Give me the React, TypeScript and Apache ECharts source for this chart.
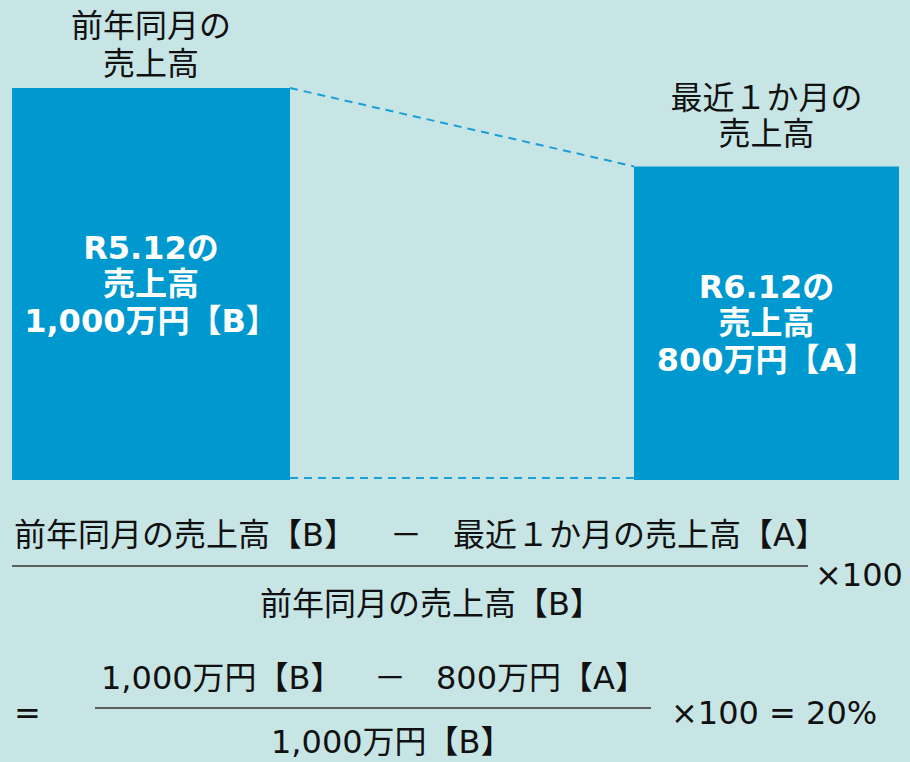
import React, { useEffect, useRef } from "react";
import * as echarts from "echarts";

// ---- data ----
const CATEGORIES = ["前年同月", "最近１か月"];
const SALES = [1000, 800];
const TOP_LABELS = ["前年同月の\n売上高", "最近１か月の\n売上高"];
const BAR_LABELS = ["R5.12の\n売上高\n1,000万円【B】", "R6.12の\n売上高\n800万円【A】"];
const FORMULA1_NUM = ["前年同月の売上高【B】", "－", "最近１か月の売上高【A】"];
const FORMULA1_DEN = "前年同月の売上高【B】";
const FORMULA1_TAIL = "×100";
const FORMULA2_NUM = ["1,000万円【B】", "－", "800万円【A】"];
const FORMULA2_DEN = "1,000万円【B】";
const FORMULA2_HEAD = "=";
const FORMULA2_TAIL = "×100 = 20%";

// ---- styles ----
const BG = "#c8e5e5";
const BAR_COLOR = "#0099cf";
const DASH_COLOR = "#1a9fd6";
const TEXT_COLOR = "#111111";
const FONT = "'DejaVu Sans', 'Noto Sans CJK JP', sans-serif";
const FS = 32;
const BAR_WIDTHS = [278, 265];
const TOP_LABEL_GAP = [5, 14];
const TOP_LABEL_LH = [38, 36];

function txt(text: string, x: number, y: number, align = "left", extra: any = {}) {
  return {
    type: "text",
    style: {
      text,
      x,
      y,
      fill: TEXT_COLOR,
      fontSize: FS,
      fontFamily: FONT,
      align,
      verticalAlign: "middle",
      textAlign: align,
      textVerticalAlign: "middle",
      ...extra,
    },
  };
}

export default function App() {
  const ref = useRef<HTMLDivElement>(null);
  useEffect(() => {
    if (!ref.current) return;
    const chart = echarts.init(ref.current, null, { renderer: "svg" });
    const option: any = {
      animation: false,
      backgroundColor: BG,
      grid: { left: 151, right: 143.5, top: 88, bottom: 282 },
      xAxis: [
        { type: "category", data: CATEGORIES, boundaryGap: false, show: false },
        { type: "category", data: CATEGORIES, boundaryGap: false, show: false, gridIndex: 0 },
      ],
      yAxis: { type: "value", min: 0, max: 1000, show: false },
      series: [
        ...SALES.map((v, i) => ({
          type: "bar",
          xAxisIndex: i,
          barWidth: BAR_WIDTHS[i],
          clip: false,
          data: SALES.map((s, j) => (j === i ? s : "-")),
          itemStyle: { color: BAR_COLOR },
          label: {
            show: true,
            position: "inside",
            formatter: () => BAR_LABELS[i],
            color: "#ffffff",
            fontWeight: "bold",
            fontSize: FS,
            fontFamily: FONT,
            lineHeight: 36.5,
            align: "center",
          },
        })),
        {
          type: "custom",
          xAxisIndex: 0,
          clip: false,
          data: SALES.map((v, i) => [i, v]),
          renderItem: (params: any, api: any) => {
            const i = params.dataIndex;
            const top = api.coord([i, SALES[i]]);
            const children: any[] = [
              {
                type: "text",
                style: {
                  text: TOP_LABELS[i],
                  x: top[0],
                  y: top[1] - TOP_LABEL_GAP[i],
                  fill: TEXT_COLOR,
                  fontSize: FS,
                  fontFamily: FONT,
                  lineHeight: TOP_LABEL_LH[i],
                  align: "center",
                  verticalAlign: "bottom",
                },
              },
            ];
            if (i === 0) {
              const nTop = api.coord([1, SALES[1]]);
              const base0 = api.coord([0, 0]);
              const base1 = api.coord([1, 0]);
              const xa = top[0] + BAR_WIDTHS[0] / 2;
              const xb = nTop[0] - BAR_WIDTHS[1] / 2;
              const lineStyle = { stroke: DASH_COLOR, lineWidth: 2, lineDash: [8, 6], fill: null };
              children.push(
                { type: "line", shape: { x1: xa, y1: top[1], x2: xb, y2: nTop[1] }, style: lineStyle },
                { type: "line", shape: { x1: xa, y1: base0[1] - 2, x2: xb, y2: base1[1] - 2 }, style: lineStyle }
              );
            }
            return { type: "group", children };
          },
        },
      ],
      graphic: [
        txt(FORMULA1_NUM[0], 14, 535),
        txt(FORMULA1_NUM[1], 406, 535, "center"),
        txt(FORMULA1_NUM[2], 453, 535),
        { type: "line", shape: { x1: 12, y1: 566, x2: 808, y2: 566 }, style: { stroke: "#333333", lineWidth: 1.5 } },
        txt(FORMULA1_TAIL, 815, 575),
        txt(FORMULA1_DEN, 260, 604),
        txt(FORMULA2_HEAD, 14, 713),
        txt(FORMULA2_NUM[0], 101, 678),
        txt(FORMULA2_NUM[1], 390, 678, "center"),
        txt(FORMULA2_NUM[2], 436, 678),
        { type: "line", shape: { x1: 95, y1: 708, x2: 651, y2: 708 }, style: { stroke: "#333333", lineWidth: 1.5 } },
        txt(FORMULA2_TAIL, 671, 713),
        txt(FORMULA2_DEN, 271, 742),
      ],
    };
    chart.setOption(option);
    return () => chart.dispose();
  }, []);
  return (
    <div
      ref={ref}
      style={{ position: "absolute", left: 0, top: 0, width: 910, height: 762 }}
    />
  );
}
